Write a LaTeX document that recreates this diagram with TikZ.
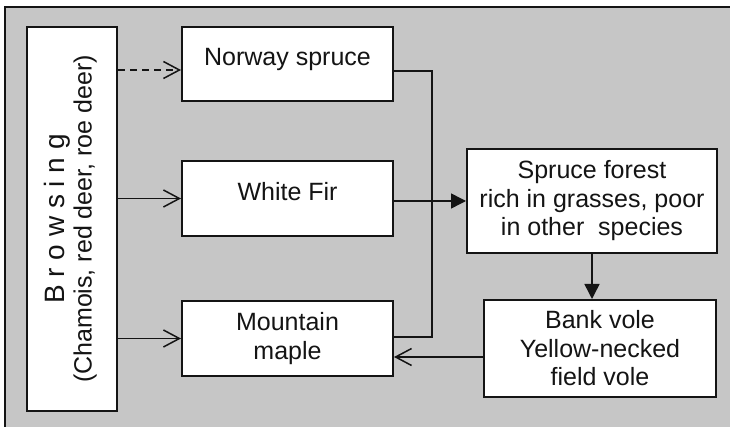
\documentclass[tikz,border=0pt]{standalone}
\usepackage{fontspec}
\setmainfont{Liberation Sans}
\usetikzlibrary{arrows.meta}
\definecolor{panel}{RGB}{198,198,198}
\definecolor{ink}{RGB}{20,20,20}
\begin{document}
\begin{tikzpicture}[x=1pt,y=-1pt,
  box/.style={draw=ink,line width=2pt,fill=white,inner sep=0pt,align=center,
    font=\fontsize{25}{28.5}\selectfont,text=ink},
  conn/.style={draw=ink,line width=1.5pt},
  open/.style={conn,-{Straight Barb[length=16pt,width=17pt,line width=1.5pt]}},
  solid head/.style={conn,-{Triangle[length=15pt,width=15pt]}}]
  % page and shaded panel
  \useasboundingbox (0,0) rectangle (730,427);
  \fill[white] (0,0) rectangle (730,427);
  \begin{scope}
    \clip (0,0) rectangle (730,427);
    \filldraw[fill=panel,draw=ink,line width=2pt] (5,7) rectangle (745,445);
  \end{scope}

  % boxes
  \node[box,minimum width=90pt,minimum height=384pt] (browse) at (72,219)
    {\rotatebox{90}{\begin{tabular}{@{}c@{}}
      {\fontsize{28}{30}\selectfont B r o w s i n g}\\[-1pt]
      (Chamois, red deer, roe deer)\end{tabular}}};
  \node[box,minimum width=211pt,minimum height=74pt,text height=18pt,text depth=14pt] (norway) at (287.5,64) {Norway spruce};
  \node[box,minimum width=211pt,minimum height=75pt,text height=18pt,text depth=14pt] (fir) at (287.5,198.5) {White Fir};
  \node[box,minimum width=211pt,minimum height=75pt] (maple) at (287.5,338.5) {Mountain\\maple};
  \node[box,minimum width=250pt,minimum height=104pt] (forest) at (592,201) {Spruce forest\\rich in grasses, poor\\in other~ species};
  \node[box,minimum width=232pt,minimum height=97pt] (vole) at (600,348.5) {Bank vole\\Yellow-necked\\field vole};

  % helper points
  \coordinate (nIn) at ([yshift=-6pt]norway.west);
  \coordinate (nOut) at ([yshift=-7pt]norway.east);
  \coordinate (busTop) at (432,71);
  \coordinate (busBot) at (432,337);
  \coordinate (vOut) at ([yshift=-8.5pt]vole.west);

  % browsing pressure on the three tree species
  \draw[open,dashed,dash pattern=on 7pt off 5pt] (nIn -| browse.east) -- (nIn);
  \draw[open] (fir.west -| browse.east) -- (fir.west);
  \draw[open] (maple.west -| browse.east) -- (maple.west);

  % collector from spruce and maple
  \draw[conn] (nOut) -- (busTop) -- (busBot) -- (busBot -| maple.east);
  \draw[solid head] (forest.west -| fir.east) -- (forest.west);
  \draw[solid head] (forest.south) -- (forest.south |- vole.north);
  \draw[open] (vOut) -- (vOut -| maple.east);
\end{tikzpicture}
\end{document}
